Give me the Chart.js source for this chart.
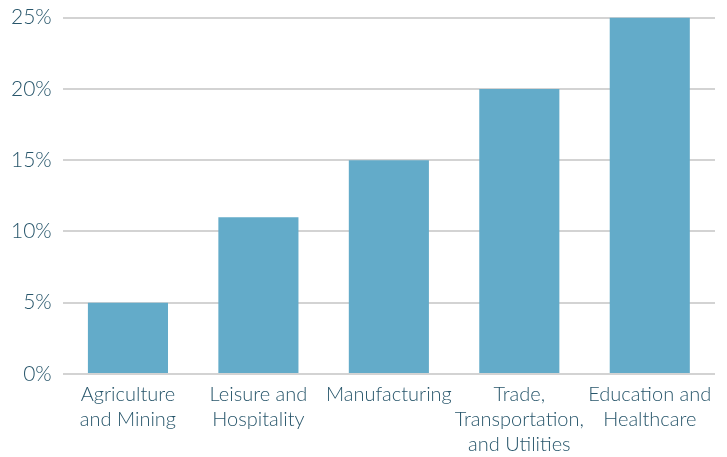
<!DOCTYPE html>
<html>
<head>
<meta charset="utf-8">
<script src="https://cdn.jsdelivr.net/npm/chart.js@4/dist/chart.umd.min.js"></script>
<style>
  html, body { margin: 0; padding: 0; background: #fff; overflow: hidden; }
  #wrap { width: 727px; height: 471px; margin-top: -6px; }
</style>
</head>
<body>
<div id="wrap"><canvas id="sectorChart"></canvas></div>
<script>
const categories = [
  ["Agriculture", "and Mining"],
  ["Leisure and", "Hospitality"],
  ["Manufacturing"],
  ["Trade,", "Transportation,", "and Utilities"],
  ["Education and", "Healthcare"],
];
const shares = [5, 11, 15, 20, 25];
const yTicks = [0, 5, 10, 15, 20, 25];

const textColor = "#28566b";

const ctx = document.getElementById("sectorChart").getContext("2d");

new Chart(ctx, {
  type: "bar",
  data: {
    labels: categories,
    datasets: [
      {
        data: shares,
        backgroundColor: "#63abc9",
        barPercentage: 0.614,
        categoryPercentage: 1,
      },
    ],
  },
  options: {
    responsive: true,
    maintainAspectRatio: false,
    animation: false,
    layout: {
      padding: { top: 0, right: 12, left: 0, bottom: 0 },
    },
    plugins: {
      legend: { display: false },
      tooltip: { enabled: false },
    },
    scales: {
      x: {
        grid: { display: false, drawTicks: false },
        border: { display: false },
        ticks: {
          color: textColor,
          font: { family: "Lato", size: 20, weight: "300", lineHeight: "25px" },
          maxRotation: 0,
          autoSkip: false,
          padding: 8,
        },
      },
      y: {
        min: 0,
        max: 25,
        afterBuildTicks: (axis) => {
          axis.ticks = yTicks.map((v) => ({ value: v }));
        },
        grid: { color: "#d3d3d3", lineWidth: 2, drawTicks: false },
        border: { display: false },
        ticks: {
          color: textColor,
          font: { family: "Lato", size: 21, weight: "300" },
          padding: 11,
          callback: (v) => v + "%",
        },
      },
    },
  },
});
</script>
</body>
</html>
